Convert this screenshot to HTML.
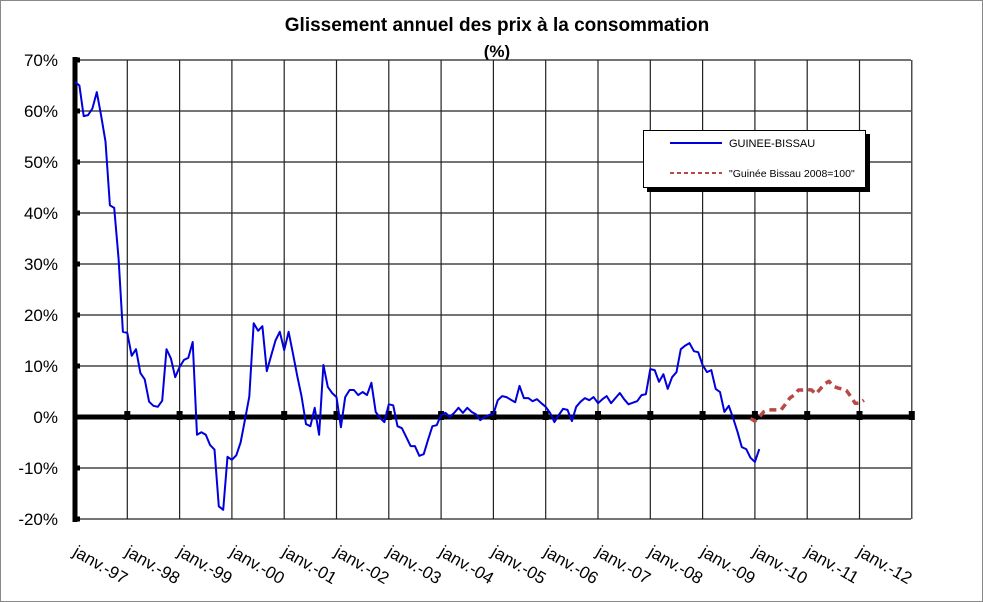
<!DOCTYPE html>
<html><head><meta charset="utf-8"><style>
html,body{margin:0;padding:0;background:#fff}
svg{display:block;font-family:"Liberation Sans",Arial,sans-serif}
</style></head><body>
<svg id="chart" width="983" height="602" viewBox="0 0 983 602" xmlns="http://www.w3.org/2000/svg">
<rect x="0.5" y="0.5" width="982" height="601" fill="#fff" stroke="#888"/>
<text x="497" y="31" text-anchor="middle" font-size="19" font-weight="bold">Glissement annuel des prix à la consommation</text>
<text x="497" y="57" text-anchor="middle" font-size="17" font-weight="bold">(%)</text>
<g id="grid"></g>
<g id="ylabels"></g>
<g id="xlabels"></g>
<g id="series"></g>
<g>
<rect x="647" y="134" width="223" height="58" fill="#000"/>
<rect x="643.5" y="130.5" width="222" height="57" fill="#fff" stroke="#000"/>
<line x1="670" y1="143" x2="722" y2="143" stroke="#0000dd" stroke-width="2"/>
<text x="729" y="147" font-size="11">GUINEE-BISSAU</text>
<line x1="670" y1="173" x2="722" y2="173" stroke="#b84a46" stroke-width="2" stroke-dasharray="4,3"/>
<text x="729" y="177" font-size="10.5">"Guinée Bissau 2008=100"</text>
</g>
</svg>
<script>
const yTicks = [70,60,50,40,30,20,10,0,-10,-20];
const xLabels = ["janv.-97","janv.-98","janv.-99","janv.-00","janv.-01","janv.-02","janv.-03","janv.-04","janv.-05","janv.-06","janv.-07","janv.-08","janv.-09","janv.-10","janv.-11","janv.-12"];
const blueValues = [65.7,65,59,59.2,60.5,63.7,59,54,41.5,41,31,16.7,16.5,12,13.3,8.6,7.4,3,2.2,2.0,3.2,13.3,11.5,7.8,9.8,11.2,11.6,14.7,-3.5,-3,-3.5,-5.5,-6.4,-17.5,-18.2,-7.8,-8.4,-7.5,-5,-0.5,4,18.4,16.9,17.8,9,12,15,16.7,13.1,16.7,12.5,8,4,-1.4,-1.8,1.8,-3.5,10.2,5.9,4.7,3.9,-2,3.9,5.3,5.3,4.3,4.9,4.3,6.7,1,-0.2,-1,2.5,2.3,-1.8,-2.2,-3.9,-5.7,-5.7,-7.6,-7.3,-4.5,-1.8,-1.6,0.4,0.8,0,0.8,1.8,0.8,1.8,1,0.5,-0.6,0,0.4,0.6,3.3,4.1,3.9,3.4,2.9,6.1,3.7,3.7,3.1,3.5,2.7,2,0.8,-1,0.4,1.6,1.4,-0.8,2,3,3.7,3.3,3.9,2.7,3.5,4.1,2.7,3.7,4.7,3.5,2.5,2.8,3.1,4.3,4.5,9.4,9.2,6.9,8.4,5.5,7.8,8.8,13.3,14,14.5,12.9,12.7,10.2,8.8,9.2,5.5,4.9,1,2.2,-0.2,-2.9,-5.9,-6.3,-8,-8.8,-6.3];
const redStartMonth = 155;
const redValues = [-0.3,-0.8,0,1,1.4,1.4,1.4,1.4,2.5,3.7,4.3,5.3,5.3,5.4,5.3,4.5,5.5,6.5,7.0,6,5.7,5.5,5.2,4,2.7,2.7,3.3];

const NS="http://www.w3.org/2000/svg";
const X0=75, MONTH=52.3/12, YTOP=60, YBOT=519, VMAX=70, VMIN=-20;
const xScale = m => X0 + m*MONTH;
const yScale = v => YTOP + (VMAX - v)/(VMAX - VMIN)*(YBOT - YTOP);
function mk(tag, attrs, parent){const e=document.createElementNS(NS,tag);for(const k in attrs)e.setAttribute(k,attrs[k]);parent.appendChild(e);return e;}

const grid=document.getElementById('grid');
yTicks.forEach(v=>{
  if(v===0) return;
  const l=mk('line',{x1:X0,x2:911,y1:yScale(v),y2:yScale(v),stroke:'#222','stroke-width':1.2},grid);
  
  
});
for(let i=1;i<=16;i++){
  const x=xScale(i*12);
  const l=mk('line',{x1:x,x2:x,y1:YTOP,y2:YBOT,stroke:'#222','stroke-width':1.2},grid);
  
  
}
const zl=mk('line',{x1:X0,x2:913,y1:yScale(0),y2:yScale(0),stroke:'#000','stroke-width':5},grid);


for(let i=1;i<=16;i++){
  const r=mk('rect',{x:xScale(i*12)-3,y:yScale(0)-6,width:6,height:9,fill:'#000'},grid);
  
  
}
const ya=mk('line',{x1:X0,x2:X0,y1:YTOP-3,y2:YBOT+3,stroke:'#000','stroke-width':5},grid);


yTicks.forEach(v=>{
  const r=mk('rect',{x:X0,y:yScale(v)-2.5,width:5,height:5,fill:'#000'},grid);
  
  
});

const yl=document.getElementById('ylabels');
yTicks.forEach(v=>{
  const t=mk('text',{x:58,y:yScale(v)+6,'text-anchor':'end','font-size':17},yl);
  t.textContent=v+'%';
  
  
});
const xl=document.getElementById('xlabels');
xLabels.forEach((s,i)=>{
  const x=xScale(i*12)-3, y=555;
  const t=mk('text',{x:x,y:y,'font-size':17,transform:`rotate(30 ${x} ${y})`},xl);
  t.textContent=s;
  
  
});

const ser=document.getElementById('series');
const bp=mk('polyline',{points:blueValues.map((v,i)=>xScale(i).toFixed(1)+','+yScale(v).toFixed(1)).join(' '),fill:'none',stroke:'#0000dd','stroke-width':2,'stroke-linejoin':'round'},ser);


const rp=mk('polyline',{points:redValues.map((v,i)=>xScale(redStartMonth+i).toFixed(1)+','+yScale(v).toFixed(1)).join(' '),fill:'none',stroke:'#b84a46','stroke-width':3.5,'stroke-dasharray':'7,5','stroke-linejoin':'round'},ser);


</script>
</body></html>
